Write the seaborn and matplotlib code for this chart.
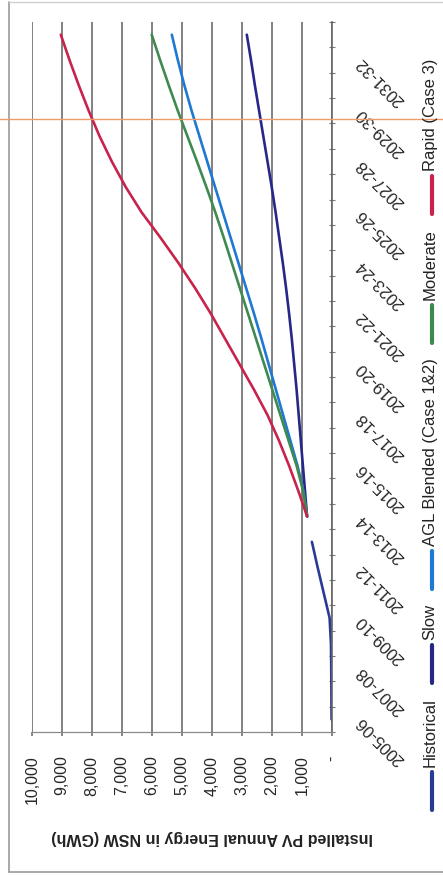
import matplotlib

matplotlib.use("Agg")

import matplotlib.pyplot as plt
import numpy as np
import pandas as pd
import seaborn as sns
from matplotlib.lines import Line2D
from matplotlib.ticker import FixedLocator, FuncFormatter

YEARS = [
    "2005-06", "2006-07", "2007-08", "2008-09", "2009-10", "2010-11", "2011-12",
    "2012-13", "2013-14", "2014-15", "2015-16", "2016-17", "2017-18", "2018-19",
    "2019-20", "2020-21", "2021-22", "2022-23", "2023-24", "2024-25", "2025-26",
    "2026-27", "2027-28", "2028-29", "2029-30", "2030-31", "2031-32", "2032-33",
]
HISTORICAL_YEARS = YEARS[:8]
PROJECTION_YEARS = YEARS[8:]

HISTORICAL = [15, 20, 25, 35, 80, 280, 480, 670]
SLOW = [830, 900, 970, 1040, 1110, 1180, 1260, 1340, 1430, 1530,
        1640, 1760, 1880, 2010, 2150, 2290, 2430, 2570, 2700, 2840]
AGL_BLENDED = [830, 950, 1150, 1390, 1630, 1870, 2110, 2350, 2600, 2860,
               3120, 3380, 3640, 3900, 4160, 4420, 4680, 4920, 5140, 5340]
MODERATE = [830, 960, 1180, 1450, 1720, 1990, 2260, 2530, 2800, 3070,
            3340, 3610, 3890, 4190, 4500, 4820, 5140, 5440, 5730, 6010]
RAPID = [830, 1120, 1430, 1770, 2150, 2600, 3080, 3560, 4040, 4560,
         5120, 5720, 6350, 6880, 7340, 7750, 8110, 8440, 8750, 9040]

SERIES_ORDER = ["Historical", "Slow", "AGL Blended (Case 1&2)", "Moderate", "Rapid (Case 3)"]
SERIES_COLORS = {
    "Historical": "#2b3a97",
    "Slow": "#27278a",
    "AGL Blended (Case 1&2)": "#1f78d1",
    "Moderate": "#3f8a50",
    "Rapid (Case 3)": "#c8234a",
}
VALUE_TICKS = [0, 1000, 2000, 3000, 4000, 5000, 6000, 7000, 8000, 9000, 10000]
AXIS_TITLE = "Installed PV Annual Energy in NSW (GWh)"

W, H = 443, 876

rows = []
for year, value in zip(HISTORICAL_YEARS, HISTORICAL):
    rows.append({"series": "Historical", "year": year, "value": value})
for name, values in [("Slow", SLOW), ("AGL Blended (Case 1&2)", AGL_BLENDED),
                     ("Moderate", MODERATE), ("Rapid (Case 3)", RAPID)]:
    for year, value in zip(PROJECTION_YEARS, values):
        rows.append({"series": name, "year": year, "value": value})
df = pd.DataFrame(rows)
df["pos"] = df["year"].map({year: index for index, year in enumerate(YEARS)})

sns.set_theme(style="white")
plt.rcParams["font.family"] = ["Liberation Sans", "DejaVu Sans"]

fig = plt.figure(figsize=(W / 100, H / 100), dpi=100)
ax = fig.add_axes([32 / W, 1 - 732 / H, 300 / W, 710 / H])

sns.lineplot(
    data=df,
    x="value",
    y="pos",
    hue="series",
    hue_order=SERIES_ORDER,
    palette=SERIES_COLORS,
    orient="y",
    estimator=None,
    linewidth=1.9,
    legend=False,
    ax=ax,
)

ax.set_xlim(10000, 0)
ax.set_ylim(-0.5, len(YEARS) - 0.5)
ax.set_xticks(VALUE_TICKS)
ax.xaxis.set_major_formatter(FuncFormatter(lambda v, _: "-" if v == 0 else f"{v:,.0f}"))
ax.grid(axis="x", color="#666666", linewidth=1.15)
ax.set_axisbelow(True)

ax.yaxis.tick_right()
ax.set_yticks(range(0, len(YEARS), 2))
ax.set_yticklabels(YEARS[::2])
ax.yaxis.set_minor_locator(FixedLocator(np.arange(-0.5, len(YEARS), 1)))
ax.tick_params(axis="y", which="major", length=0, pad=19, labelsize=12)
ax.tick_params(axis="y", which="minor", right=True, length=4, direction="inout",
               color="#777777", width=0.8)
for label in ax.get_yticklabels():
    label.set_rotation(135)
    label.set_rotation_mode("anchor")
    label.set_horizontalalignment("right")
    label.set_verticalalignment("center")

ax.tick_params(axis="x", bottom=True, length=3, color="#777777", pad=14, labelsize=11.5)
for label in ax.get_xticklabels():
    label.set_rotation(90)
    label.set_verticalalignment("top")
    label.set_horizontalalignment("center")

ax.set_xlabel("")
ax.set_ylabel("")
for side in ["top", "left"]:
    ax.spines[side].set_visible(False)
ax.spines["right"].set_color("#666666")
ax.spines["bottom"].set_color("#8a8a8a")
ax.spines["right"].set_linewidth(1.2)
ax.spines["bottom"].set_linewidth(0.9)

fig.text(212 / W, 1 - 837 / H, AXIS_TITLE, rotation=180, ha="center", va="center",
         fontsize=11.5, fontweight="bold", color="#222222")

# legend drawn by hand, stacked bottom-to-top like the rotated original
renderer = fig.canvas.get_renderer()
y = 810
for name in SERIES_ORDER:
    fig.add_artist(Line2D([432 / W, 432 / W], [1 - y / H, 1 - (y - 38) / H],
                          color=SERIES_COLORS[name], linewidth=3,
                          transform=fig.transFigure))
    text = fig.text(430 / W, 1 - (y - 43) / H, name, rotation=90, ha="center",
                    va="bottom", fontsize=12, color="#222222")
    y = y - 43 - text.get_window_extent(renderer).height - 15

# chart frame and the orange marker line across the page
fig.add_artist(Line2D([9 / W, 9 / W], [1 - 2 / H, 1 - 872 / H], color="#9a9a9a",
                      linewidth=1.2, transform=fig.transFigure))
fig.add_artist(Line2D([9 / W, 1], [1 - 872 / H, 1 - 872 / H], color="#9a9a9a",
                      linewidth=1.2, transform=fig.transFigure))
fig.add_artist(Line2D([9 / W, 1], [1 - 2 / H, 1 - 2 / H], color="#d0d0d0",
                      linewidth=1, transform=fig.transFigure))
fig.add_artist(Line2D([0, 1], [1 - 119 / H, 1 - 119 / H], color="#ee9a6a",
                      linewidth=1, transform=fig.transFigure))

fig.savefig("out.png", dpi=100)
plt.close(fig)
